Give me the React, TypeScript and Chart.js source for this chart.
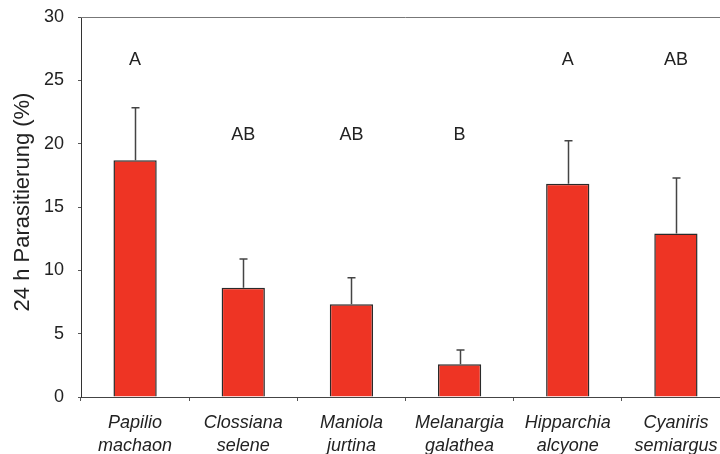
import React, { useEffect, useRef } from "react";
import { Chart, registerables } from "chart.js";

Chart.register(...registerables);

const categories: string[][] = [
  ["Papilio", "machaon"],
  ["Clossiana", "selene"],
  ["Maniola", "jurtina"],
  ["Melanargia", "galathea"],
  ["Hipparchia", "alcyone"],
  ["Cyaniris", "semiargus"],
];
const means: number[] = [18.7, 8.63, 7.32, 2.58, 16.84, 12.9];
const errors: number[] = [4.14, 2.27, 2.1, 1.13, 3.4, 4.39];
const letters: string[] = ["A", "AB", "AB", "B", "A", "AB"];
const letterLevels: number[] = [26.6, 20.7, 20.7, 20.7, 26.6, 26.6];
const yTicks: number[] = [0, 5, 10, 15, 20, 25, 30];
const yTitle = "24 h Parasitierung (%)";

const FONT = "'Liberation Sans', Arial, Helvetica, sans-serif";

const extrasPlugin = {
  id: "extras",
  afterDatasetsDraw(chart: any) {
    const { ctx, chartArea, scales } = chart;
    const x = scales.x;
    const y = scales.y;
    ctx.save();
    // top frame line
    ctx.strokeStyle = "#777";
    ctx.lineWidth = 1;
    ctx.beginPath();
    ctx.moveTo(chartArea.left, chartArea.top + 0.5);
    ctx.lineTo(chartArea.right, chartArea.top + 0.5);
    ctx.stroke();
    // error bars (upper only)
    ctx.strokeStyle = "#444";
    ctx.lineWidth = 1.5;
    means.forEach((m, i) => {
      const px = Math.round(x.getPixelForValue(i)) + 0.5;
      const yb = y.getPixelForValue(m);
      const yt = y.getPixelForValue(m + errors[i]);
      ctx.beginPath();
      ctx.moveTo(px, yb);
      ctx.lineTo(px, yt);
      ctx.moveTo(px - 4, yt);
      ctx.lineTo(px + 4, yt);
      ctx.stroke();
    });
    // letters
    ctx.fillStyle = "#222";
    ctx.font = `18px ${FONT}`;
    ctx.textAlign = "center";
    ctx.textBaseline = "middle";
    letters.forEach((l, i) => {
      ctx.fillText(l, x.getPixelForValue(i), y.getPixelForValue(letterLevels[i]));
    });
    // y axis title
    ctx.translate(23, (chartArea.top + chartArea.bottom) / 2 - 5);
    ctx.rotate(-Math.PI / 2);
    ctx.font = `22px ${FONT}`;
    ctx.fillText(yTitle, 0, 0);
    ctx.restore();
  },
};

export default function App() {
  const ref = useRef<HTMLCanvasElement>(null);
  useEffect(() => {
    if (!ref.current) return;
    const chart = new Chart(ref.current, {
      type: "bar",
      data: {
        labels: categories,
        datasets: [
          {
            data: means,
            backgroundColor: "#EE3424",
            borderColor: "#2a2a2a",
            borderWidth: 1.5,
            barPercentage: 0.4,
            categoryPercentage: 1,
          },
        ],
      },
      options: {
        responsive: false,
        animation: false,
        layout: { padding: { top: 17, right: 10, left: 0, bottom: 0 } },
        plugins: { legend: { display: false }, tooltip: { enabled: false } },
        scales: {
          x: {
            grid: {
              display: true,
              drawOnChartArea: false,
              drawTicks: true,
              tickLength: 4,
              color: "#555",
              offset: true,
            },
            border: { display: true, color: "#444", width: 1 },
            ticks: {
              color: "#222",
              font: { family: FONT, size: 18, style: "italic", lineHeight: 1.28 },
              padding: 10,
              maxRotation: 0,
              autoSkip: false,
            },
            afterFit(scale: any) {
              scale.height = 57;
              scale.paddingLeft = 0;
              scale.paddingRight = 0;
            },
          },
          y: {
            min: 0,
            max: 30,
            afterBuildTicks(scale: any) {
              scale.ticks = yTicks.map((v) => ({ value: v }));
            },
            grid: {
              display: true,
              drawOnChartArea: false,
              drawTicks: true,
              tickLength: 3,
              color: "#555",
            },
            border: { display: true, color: "#333", width: 1 },
            ticks: {
              color: "#222",
              font: { family: FONT, size: 18 },
              padding: 14,
            },
            title: { display: false },
            afterFit(scale: any) {
              scale.width = 81;
              scale.paddingTop = 0;
              scale.paddingBottom = 0;
            },
          },
        },
      },
      plugins: [extrasPlugin],
    });
    return () => chart.destroy();
  }, []);
  return (
    <div
      style={{
        position: "fixed",
        left: 0,
        top: 0,
        width: 720,
        height: 454,
        overflow: "hidden",
        background: "#fff",
      }}
    >
      <canvas ref={ref} width={740} height={454} style={{ display: "block" }} />
    </div>
  );
}
